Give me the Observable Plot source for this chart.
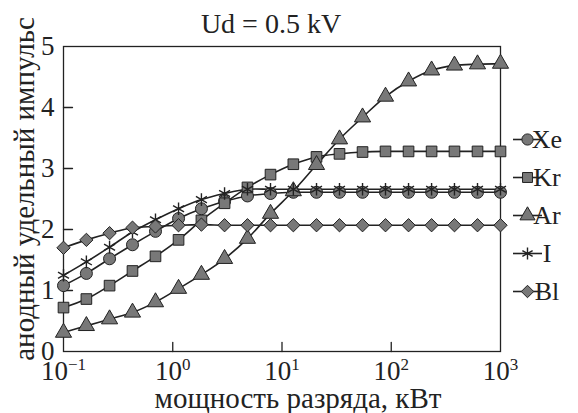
<!DOCTYPE html>
<html>
<head>
<meta charset="utf-8">
<script src="https://cdn.jsdelivr.net/npm/d3@7"></script>
<script src="https://cdn.jsdelivr.net/npm/@observablehq/plot@0.6"></script>
<style>
  html, body { margin: 0; padding: 0; background: #fff; }
  #chart { position: relative; width: 578px; height: 413px; }
</style>
</head>
<body>
<div id="chart"></div>
<script>
// Discharge power, kW (log-spaced sample points)
const power = [0.1, 0.162, 0.264, 0.428, 0.695, 1.13, 1.83, 2.98, 4.83, 7.85,
               12.7, 20.7, 33.6, 54.6, 88.6, 144, 234, 379, 616, 1000];

const seriesNames = ["Xe", "Kr", "Ar", "I", "Bl"];
const xe = [1.08, 1.28, 1.52, 1.75, 1.97, 2.18, 2.34, 2.46, 2.55, 2.59,
            2.61, 2.61, 2.61, 2.61, 2.61, 2.61, 2.61, 2.61, 2.61, 2.61];
const kr = [0.72, 0.86, 1.08, 1.32, 1.56, 1.83, 2.15, 2.43, 2.69, 2.90,
            3.07, 3.19, 3.24, 3.27, 3.28, 3.28, 3.28, 3.28, 3.28, 3.28];
const ar = [0.31, 0.42, 0.53, 0.64, 0.81, 1.03, 1.26, 1.52, 1.85, 2.26,
            2.63, 3.06, 3.48, 3.84, 4.18, 4.43, 4.61, 4.69, 4.71, 4.72];
const iod = [1.25, 1.47, 1.71, 1.96, 2.16, 2.34, 2.49, 2.59, 2.66, 2.66,
             2.66, 2.66, 2.66, 2.66, 2.66, 2.66, 2.66, 2.66, 2.66, 2.66];
const bl = [1.70, 1.83, 1.94, 2.03, 2.05, 2.07, 2.08, 2.07, 2.07, 2.07,
            2.07, 2.07, 2.07, 2.07, 2.07, 2.07, 2.07, 2.07, 2.07, 2.07];
const seriesValues = [xe, kr, ar, iod, bl];
const seriesSymbols = ["circle", "square", "triangle", "asterisk", "diamond2"];

const xTicks = [0.1, 1, 10, 100, 1000];
const xTickExp = ["−1", "0", "1", "2", "3"];
const xInnerTicks = [1, 10, 100];
const yTicks = [0, 1, 2, 3, 4, 5];
const yInnerTicks = [1, 2, 3, 4];

const title = "Ud = 0.5 kV";
const xLabel = "мощность разряда, кВт";
const yLabel = "анодный удельный импульс";

const rows = [];
seriesNames.forEach((name, si) => {
  power.forEach((p, i) => rows.push({series: name, x: p, y: seriesValues[si][i], symbol: seriesSymbols[si]}));
});

const font = "Liberation Serif";
const ink = "#222";
const markFill = "#787878";
const tickShape = {draw(context, l) { context.moveTo(0, 0); context.lineTo(0, -l); }};

const plot = Plot.plot({
  width: 578,
  height: 413,
  marginLeft: 63,
  marginRight: 78,
  marginTop: 46,
  marginBottom: 62,
  x: {type: "log", domain: [0.1, 1000]},
  y: {domain: [0, 5]},
  symbol: {domain: seriesSymbols, range: seriesSymbols},
  marks: [
    Plot.frame({stroke: ink, strokeWidth: 1.3}),
    Plot.axisX({ticks: xTicks, tickFormat: d => "10^" + xTickExp[xTicks.indexOf(d)], tickSize: 0, tickPadding: 9,
                label: null, fontFamily: font, fontSize: 27, fill: ink}),
    Plot.axisY({ticks: yTicks, tickSize: 0, tickPadding: 9, label: null, tickFormat: d => String(d),
                fontFamily: font, fontSize: 27, fill: ink}),
    Plot.vector(xInnerTicks, {x: d => d, frameAnchor: "bottom", rotate: 0, length: 9, anchor: "start", shape: tickShape, stroke: ink, strokeWidth: 1.3}),
    Plot.vector(yInnerTicks, {y: d => d, frameAnchor: "left", rotate: 90, length: 9, anchor: "start", shape: tickShape, stroke: ink, strokeWidth: 1.3}),
    Plot.line(rows, {x: "x", y: "y", z: "series", stroke: ink, strokeWidth: 1.6, curve: "catmull-rom"}),
    Plot.dot(rows, {x: "x", y: "y", symbol: "symbol", r: 6, fill: d => d.symbol === "asterisk" ? "none" : markFill,
                    stroke: ink, strokeWidth: d => d.symbol === "asterisk" ? 1.4 : 1}),
    Plot.text([title], {frameAnchor: "top", lineAnchor: "middle", textAnchor: "middle", dy: -22, dx: -11,
                        text: d => d, fontFamily: font, fontSize: 28, fill: ink}),
    Plot.text([xLabel], {frameAnchor: "bottom", lineAnchor: "middle", textAnchor: "middle", dy: 47, dx: 16,
                         text: d => d, fontFamily: font, fontSize: 29, fill: ink}),
    Plot.text([yLabel], {frameAnchor: "left", lineAnchor: "middle", textAnchor: "middle", dx: -39, dy: -10, rotate: -90,
                         text: d => d, fontFamily: font, fontSize: 29, fill: ink})
  ]
});

document.getElementById("chart").appendChild(plot);

// Superscript exponents on x tick labels
d3.select(plot).selectAll("g[aria-label='x-axis tick label'] text").each(function() {
  const t = d3.select(this);
  const s = t.text();
  if (s.startsWith("10^")) {
    t.text("10");
    t.append("tspan").attr("dy", "-10px").attr("font-size", "17px").text(s.slice(3));
  }
});

// Legend drawn in the same SVG, to the right of the frame
const svg = d3.select(plot);
const lg = svg.append("g").attr("font-size", 26).attr("font-family", font).attr("fill", ink);
const legX = 513, legW = 29, legY0 = 139.5, legDy = 38;
const symMap = {circle: d3.symbolCircle, square: d3.symbolSquare, triangle: d3.symbolTriangle,
                asterisk: d3.symbolAsterisk, diamond2: d3.symbolDiamond2};
seriesNames.forEach((name, i) => {
  const yy = legY0 + i * legDy;
  const g = lg.append("g").attr("transform", `translate(0,${yy})`);
  g.append("line").attr("x1", legX).attr("x2", legX + legW).attr("stroke", ink).attr("stroke-width", 1.6);
  const sym = seriesSymbols[i];
  g.append("path")
    .attr("transform", `translate(${legX + legW / 2},0)`)
    .attr("d", d3.symbol(symMap[sym], Math.PI * 5.6 * 5.6)())
    .attr("fill", sym === "asterisk" ? "none" : markFill)
    .attr("stroke", ink).attr("stroke-width", sym === "asterisk" ? 1.4 : 1);
  g.append("text").attr("x", legX + legW + 5).attr("dy", "0.32em").text(name);
});
</script>
</body>
</html>
